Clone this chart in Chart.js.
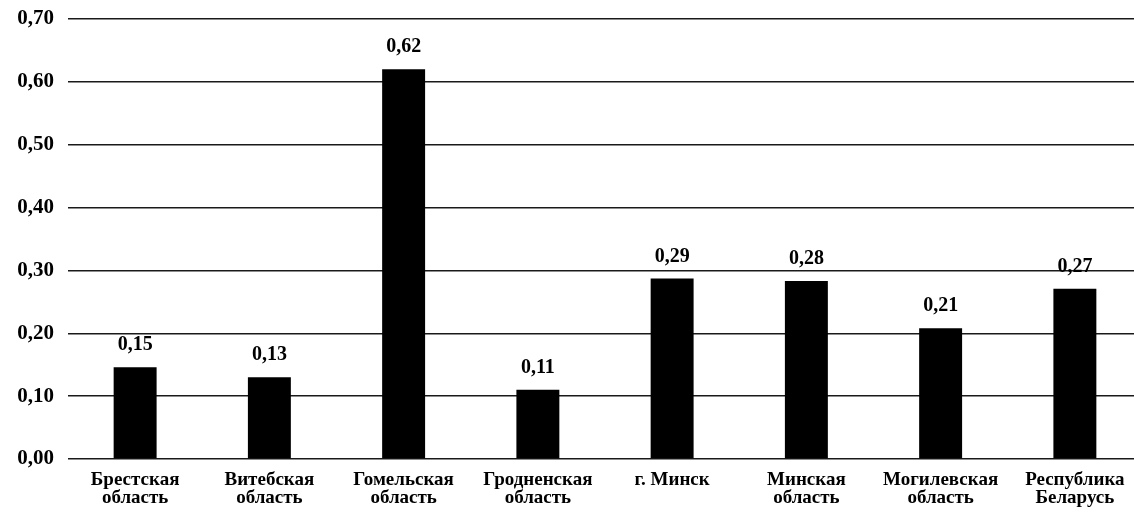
<!DOCTYPE html>
<html lang="ru">
<head>
    <meta charset="UTF-8">
    <title>Показатель по областям</title>
    <script src="https://cdn.jsdelivr.net/npm/chart.js"></script>
    <style>
        html, body { margin: 0; padding: 0; background: #fff; overflow: hidden; }
        #wrap { width: 1142px; height: 523px; }
    </style>
</head>
<body>
    <div id="wrap"><canvas id="barChart"></canvas></div>
    <script>
        const categories = [
            ['Брестская', 'область'],
            ['Витебская', 'область'],
            ['Гомельская', 'область'],
            ['Гродненская', 'область'],
            ['г. Минск', ''],
            ['Минская', 'область'],
            ['Могилевская', 'область'],
            ['Республика', 'Беларусь']
        ];
        const values = [0.146, 0.13, 0.62, 0.11, 0.287, 0.283, 0.208, 0.271];
        const yTicks = [0, 0.1, 0.2, 0.3, 0.4, 0.5, 0.6, 0.7];

        const fmt = v => v.toFixed(2).replace('.', ',');
        const fontFamily = '"Liberation Serif", "Times New Roman", serif';

        // value labels above the bars
        const valueLabels = {
            id: 'valueLabels',
            afterDatasetsDraw(chart) {
                const ctx = chart.ctx;
                const meta = chart.getDatasetMeta(0);
                ctx.save();
                ctx.font = 'bold 20px ' + fontFamily;
                ctx.fillStyle = '#000';
                ctx.textAlign = 'center';
                ctx.textBaseline = 'bottom';
                meta.data.forEach((bar, i) => {
                    ctx.fillText(fmt(values[i]), bar.x, bar.y - 12);
                });
                ctx.restore();
            }
        };

        new Chart(document.getElementById('barChart'), {
            type: 'bar',
            data: {
                labels: categories,
                datasets: [{
                    data: values,
                    backgroundColor: '#000',
                    borderWidth: 0,
                    categoryPercentage: 1,
                    barPercentage: 0.32
                }]
            },
            options: {
                responsive: true,
                maintainAspectRatio: false,
                animation: false,
                layout: { padding: { top: 19, left: 0, right: 0, bottom: 0 } },
                plugins: {
                    legend: { display: false },
                    tooltip: { enabled: false }
                },
                scales: {
                    x: {
                        grid: { display: false },
                        border: { display: false },
                        ticks: {
                            color: '#000',
                            padding: 4,
                            maxRotation: 0,
                            autoSkip: false,
                            font: { family: fontFamily, size: 19, weight: 'bold', lineHeight: 0.95 }
                        },
                        afterFit(scale) { scale.height = 64; }
                    },
                    y: {
                        min: 0,
                        max: 0.7,
                        afterBuildTicks(scale) {
                            scale.ticks = yTicks.map(v => ({ value: v }));
                        },
                        grid: {
                            color: '#1a1a1a',
                            lineWidth: 1.5,
                            drawTicks: false
                        },
                        border: { display: false },
                        ticks: {
                            color: '#000',
                            padding: 14,
                            font: { family: fontFamily, size: 21, weight: 'bold' },
                            callback: v => fmt(v)
                        },
                        afterFit(scale) {
                            scale.width = 68;
                            scale.paddingTop = 0;
                            scale.paddingBottom = 0;
                        }
                    }
                }
            },
            plugins: [valueLabels]
        });
    </script>
</body>
</html>
